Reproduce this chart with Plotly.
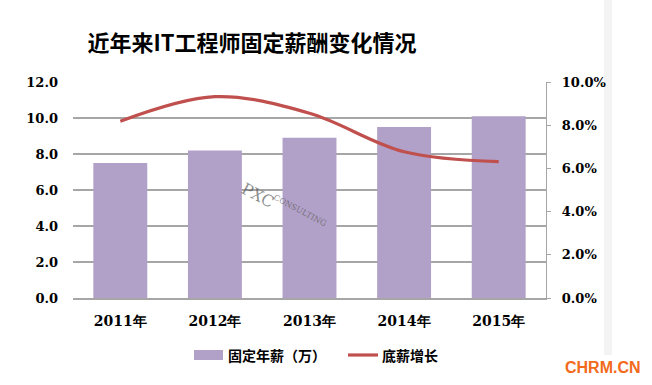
import plotly.graph_objects as go

years = ["2011年", "2012年", "2013年", "2014年", "2015年"]
salary = [7.5, 8.2, 8.9, 9.5, 10.1]          # 固定年薪（万）
growth = [8.18, 9.32, 8.55, 6.77, 6.31]      # 底薪增长 (%)

left_ticks = [0, 2, 4, 6, 8, 10, 12]
left_labels = ["0.0", "2.0", "4.0", "6.0", "8.0", "10.0", "12.0"]
right_ticks = [0, 2, 4, 6, 8, 10]
right_labels = ["0.0%", "2.0%", "4.0%", "6.0%", "8.0%", "10.0%"]

BAR = "#b1a0c7"
LINE = "#c0504d"
CJK = "Noto Sans CJK SC"
NUM = "DejaVu Serif"

# plot area in pixels
L, R, T, B = 73, 546, 82, 298
W, H = 652, 385

def px(x):
    return (x - L) / (R - L)

def py(y):
    return (B - y) / (B - T)

fig = go.Figure()
fig.add_trace(go.Bar(
    x=years, y=salary, name="固定年薪（万）",
    marker=dict(color=BAR, line=dict(width=0)),
    width=0.57, yaxis="y", showlegend=False,
))
fig.add_trace(go.Scatter(
    x=years, y=growth, name="底薪增长", mode="lines",
    line=dict(color=LINE, width=3.2, shape="spline", smoothing=1.0),
    yaxis="y2", showlegend=False,
))

tickfont = dict(family=NUM, size=13, color="black", weight="bold")

fig.update_layout(
    width=W, height=H,
    margin=dict(l=L, r=W - R, t=T, b=H - B, autoexpand=False),
    paper_bgcolor="white", plot_bgcolor="white",
    title=dict(text="近年来IT工程师固定薪酬变化情况",
               font=dict(family=CJK, size=22, color="black", weight="bold"),
               x=252/652, xanchor="center", xref="container",
               y=1-43/385, yanchor="middle", yref="container"),
    xaxis=dict(showgrid=False, showline=True, linecolor="#a6a6a6", linewidth=1.5,
               ticks="", tickfont=dict(family=NUM, size=14, color="black", weight="bold"),
               ticklabelstandoff=10, automargin=False),
    yaxis=dict(range=[0, 12], tickvals=left_ticks, ticktext=left_labels,
               showgrid=True, gridcolor="#a6a6a6", gridwidth=1.2,
               showline=False, zeroline=False, ticks="",
               tickfont=tickfont, ticklabelstandoff=14, automargin=False),
    yaxis2=dict(range=[0, 10], tickvals=right_ticks, ticktext=right_labels,
                overlaying="y", side="right", showgrid=False, zeroline=False,
                showline=True, linecolor="#a6a6a6", linewidth=1.2,
                ticks="outside", ticklen=4, tickcolor="#a6a6a6",
                tickfont=tickfont, ticklabelstandoff=8, automargin=False),
    bargap=0.43,
    hovermode=False,
)

# legend (drawn as swatches + text)
fig.add_shape(type="rect", xref="paper", yref="paper",
              x0=px(194), x1=px(223), y0=py(360), y1=py(350),
              fillcolor=BAR, line=dict(width=0))
fig.add_annotation(text="固定年薪（万）", x=px(226), y=py(355), xref="paper", yref="paper",
                   showarrow=False, xanchor="left", yanchor="middle",
                   font=dict(family=CJK, size=14, color="black", weight="bold"))
fig.add_shape(type="line", xref="paper", yref="paper",
              x0=px(348), x1=px(378), y0=py(355), y1=py(355),
              line=dict(color=LINE, width=3.2))
fig.add_annotation(text="底薪增长", x=px(380), y=py(355), xref="paper", yref="paper",
                   showarrow=False, xanchor="left", yanchor="middle",
                   font=dict(family=CJK, size=14, color="black", weight="bold"))

# watermark
fig.add_annotation(text="PXC", x=px(258), y=py(195), xref="paper", yref="paper",
                   showarrow=False, textangle=28,
                   font=dict(family=NUM, size=16, color="rgba(90,90,90,0.7)"))
fig.add_annotation(text="CONSULTING", x=px(300), y=py(210), xref="paper", yref="paper",
                   showarrow=False, textangle=28,
                   font=dict(family=NUM, size=8, color="rgba(90,90,90,0.7)"))

# light screenshot strip and site mark
fig.add_shape(type="rect", xref="paper", yref="paper", x0=px(604), x1=px(612),
              y0=py(355), y1=py(0), fillcolor="#f3f3f3", line=dict(width=0),
              layer="below")
fig.add_annotation(text="CHRM.CN", x=px(603), y=py(367), xref="paper", yref="paper",
                   showarrow=False, xanchor="center", yanchor="middle",
                   font=dict(family="Liberation Sans", size=16, color="#f26a1b", weight="bold"))

fig.write_html("out.html",
               config={"displayModeBar": False, "staticPlot": True},
               post_script="document.body.style.margin='0';document.body.style.overflow='hidden';")
